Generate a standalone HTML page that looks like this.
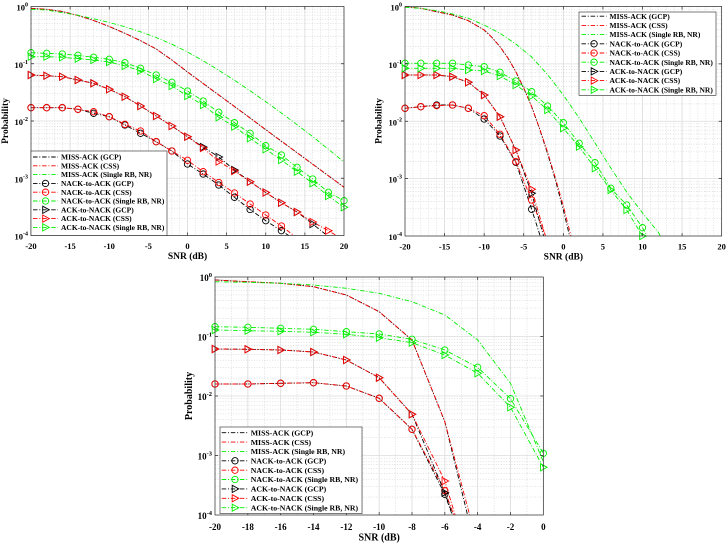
<!DOCTYPE html>
<html><head><meta charset="utf-8">
<style>
html,body{margin:0;padding:0;background:#fff;width:728px;height:544px;overflow:hidden;}
svg{display:block;}
text{font-family:"Liberation Serif","Times New Roman",serif;font-weight:bold;fill:#000;}
.gM{stroke:#dcdcdc;stroke-width:0.8;fill:none;}
.gm{stroke:#cfcfcf;stroke-width:0.6;stroke-dasharray:1 1.6;fill:none;}
.ax{stroke:#262626;stroke-width:0.7;fill:none;}
.l{fill:none;stroke-width:0.9;stroke-dasharray:4.5 1.8 1 1.8;}
.k{stroke:#000;}
.r{stroke:#ff0000;}
.g{stroke:#00ee00;}
.ro{stroke-dashoffset:0.8;}
.mk{fill:none;stroke-width:0.9;}
.tk{font-size:8.5px;}
.tkc{font-size:9px;}
.lab{font-size:9.5px;}
.labc{font-size:10px;}
.lg{font-size:7.5px;}
.lgc{font-size:7.8px;}
</style></head>
<body>
<svg width="728" height="544" viewBox="0 0 728 544" xmlns="http://www.w3.org/2000/svg">
<defs>
<clipPath id="cA"><rect x="31" y="6.5" width="313" height="229"/></clipPath>
<clipPath id="cB"><rect x="405" y="6.5" width="316.67" height="229.5"/></clipPath>
<clipPath id="cC"><rect x="215" y="277" width="328.33" height="238"/></clipPath>
<circle id="o" r="3.2"/>
<path id="t" d="M-2.8,-3.6L3.8,0L-2.8,3.6Z"/>
<path id="mA" d="M31,-17.234H344M31,-27.315H344M31,-34.468H344M31,-40.016H344M31,-44.549H344M31,-48.382H344M31,-51.702H344M31,-54.63H344"/>
<path id="mB" d="M405,-17.272H721.67M405,-27.375H721.67M405,-34.543H721.67M405,-40.103H721.67M405,-44.646H721.67M405,-48.487H721.67M405,-51.815H721.67M405,-54.75H721.67"/>
<path id="mC" d="M215,-17.911H543.33M215,-28.389H543.33M215,-35.823H543.33M215,-41.589H543.33M215,-46.3H543.33M215,-50.283H543.33M215,-53.734H543.33M215,-56.777H543.33"/>
</defs>
<rect x="0" y="0" width="728" height="544" fill="#fff"/>

<!-- ================= PLOT A ================= -->
<g class="gm">
<path d="M38.825,6.5v229m7.825,-229v229m7.825,-229v229m7.825,-229v229m7.825,-229v229m7.825,-229v229m7.825,-229v229m7.825,-229v229m7.825,-229v229m7.825,-229v229m7.825,-229v229m7.825,-229v229m7.825,-229v229m7.825,-229v229m7.825,-229v229m7.825,-229v229m7.825,-229v229m7.825,-229v229m7.825,-229v229m7.825,-229v229m7.825,-229v229m7.825,-229v229m7.825,-229v229m7.825,-229v229m7.825,-229v229m7.825,-229v229m7.825,-229v229m7.825,-229v229m7.825,-229v229m7.825,-229v229m7.825,-229v229m7.825,-229v229m7.825,-229v229m7.825,-229v229m7.825,-229v229m7.825,-229v229m7.825,-229v229m7.825,-229v229m7.825,-229v229"/>
<use href="#mA" y="63.75"/><use href="#mA" y="121"/><use href="#mA" y="178.25"/><use href="#mA" y="235.5"/>
</g>
<path class="gM" d="M70.13,6.5v229M109.25,6.5v229M148.38,6.5v229M187.5,6.5v229M226.63,6.5v229M265.75,6.5v229M304.88,6.5v229M31,63.75H344M31,121H344M31,178.25H344"/>

<g clip-path="url(#cA)">
<polyline class="l k" points="31,8.3 46.65,9.3 62.3,11.5 77.95,15.5 93.6,20.5 109.25,26.5 124.9,33.3 140.55,40.7 156.2,49 171.85,60 187.5,72 203.15,83.5 218.8,95 234.45,106.5 250.1,118 265.75,129.7 281.4,141.2 297.05,152.7 312.7,164.2 328.35,175.7 344,187.2"/>
<polyline class="l r ro" points="31,8.3 46.65,9.3 62.3,11.5 77.95,15.5 93.6,20.5 109.25,26.5 124.9,33.3 140.55,40.7 156.2,49 171.85,60 187.5,72 203.15,83.5 218.8,95 234.45,106.5 250.1,118 265.75,129.7 281.4,141.2 297.05,152.7 312.7,164.2 328.35,175.7 344,187.2"/>
<polyline class="l g" points="31,9.3 46.65,10 62.3,12.7 77.95,15.2 93.6,18.7 109.25,22.5 124.9,26.8 140.55,31.8 156.2,37.5 171.85,44.2 187.5,52 203.15,60.8 218.8,70.3 234.45,80.3 250.1,90.8 265.75,101.7 281.4,113 297.05,124.7 312.7,136.6 328.35,149.2 344,162"/>
<polyline class="l k" points="31,107.7 46.65,107.7 62.3,107.7 77.95,109.3 93.6,113.3 109.25,116.7 124.9,125 140.55,133.3 156.2,141.7 171.85,151 187.5,164 203.15,174 218.8,185 234.45,197.3 250.1,209.5 265.75,220.7 281.4,230.7 297.05,241"/>
<polyline class="l r ro" points="31,107.7 46.65,107.7 62.3,107.7 77.95,109.3 93.6,111.7 109.25,116.7 124.9,124.3 140.55,131 156.2,141.7 171.85,151 187.5,160.3 203.15,171.7 218.8,182.5 234.45,193 250.1,204 265.75,215 281.4,226 297.05,238"/>
<polyline class="l g" points="31,52.7 46.65,53.3 62.3,54 77.95,55.3 93.6,57.3 109.25,59.3 124.9,62.7 140.55,68.3 156.2,75 171.85,82.3 187.5,91 203.15,101 218.8,112.3 234.45,122.7 250.1,133.3 265.75,145.7 281.4,155 297.05,167.3 312.7,179 328.35,192.3 344,200.7"/>
<polyline class="l k" points="31,75 46.65,75.7 62.3,76.7 77.95,80 93.6,83.3 109.25,89.3 124.9,96.7 140.55,106 156.2,116 171.85,126 187.5,136.7 203.15,147 218.8,157 234.45,170 250.1,181.7 265.75,192.5 281.4,202.7 297.05,212 312.7,224 328.35,236.5"/>
<polyline class="l r ro" points="31,75 46.65,75.7 62.3,76.7 77.95,80 93.6,83.3 109.25,89.3 124.9,96.7 140.55,106 156.2,116 171.85,126 187.5,136.7 203.15,148 218.8,161.5 234.45,171 250.1,181.7 265.75,192.5 281.4,202.7 297.05,212 312.7,222 328.35,230.7 344,240"/>
<polyline class="l g" points="31,56.7 46.65,56.7 62.3,57.3 77.95,58.7 93.6,60 109.25,62 124.9,66 140.55,70.7 156.2,79 171.85,86 187.5,96 203.15,105 218.8,117.3 234.45,126.7 250.1,138.3 265.75,149.3 281.4,160 297.05,171.7 312.7,183.3 328.35,196 344,207.3"/>
</g>
<!-- A markers -->
<g class="mk k">
<use href="#o" x="31" y="107.7"/><use href="#o" x="46.65" y="107.7"/><use href="#o" x="62.3" y="107.7"/><use href="#o" x="77.95" y="109.3"/><use href="#o" x="93.6" y="113.3"/><use href="#o" x="109.25" y="116.7"/><use href="#o" x="124.9" y="125"/><use href="#o" x="140.55" y="133.3"/><use href="#o" x="156.2" y="141.7"/><use href="#o" x="171.85" y="151"/><use href="#o" x="187.5" y="164"/><use href="#o" x="203.15" y="174"/><use href="#o" x="218.8" y="185"/><use href="#o" x="234.45" y="197.3"/><use href="#o" x="250.1" y="209.5"/><use href="#o" x="265.75" y="220.7"/><use href="#o" x="281.4" y="230.7"/>
</g>
<g class="mk r">
<use href="#o" x="31" y="107.7"/><use href="#o" x="46.65" y="107.7"/><use href="#o" x="62.3" y="107.7"/><use href="#o" x="77.95" y="109.3"/><use href="#o" x="93.6" y="111.7"/><use href="#o" x="109.25" y="116.7"/><use href="#o" x="124.9" y="124.3"/><use href="#o" x="140.55" y="131"/><use href="#o" x="156.2" y="141.7"/><use href="#o" x="171.85" y="151"/><use href="#o" x="187.5" y="160.3"/><use href="#o" x="203.15" y="171.7"/><use href="#o" x="218.8" y="182.5"/><use href="#o" x="234.45" y="193"/><use href="#o" x="250.1" y="204"/><use href="#o" x="265.75" y="215"/><use href="#o" x="281.4" y="226"/>
</g>
<g class="mk g">
<use href="#o" x="31" y="52.7"/><use href="#o" x="46.65" y="53.3"/><use href="#o" x="62.3" y="54"/><use href="#o" x="77.95" y="55.3"/><use href="#o" x="93.6" y="57.3"/><use href="#o" x="109.25" y="59.3"/><use href="#o" x="124.9" y="62.7"/><use href="#o" x="140.55" y="68.3"/><use href="#o" x="156.2" y="75"/><use href="#o" x="171.85" y="82.3"/><use href="#o" x="187.5" y="91"/><use href="#o" x="203.15" y="101"/><use href="#o" x="218.8" y="112.3"/><use href="#o" x="234.45" y="122.7"/><use href="#o" x="250.1" y="133.3"/><use href="#o" x="265.75" y="145.7"/><use href="#o" x="281.4" y="155"/><use href="#o" x="297.05" y="167.3"/><use href="#o" x="312.7" y="179"/><use href="#o" x="328.35" y="192.3"/><use href="#o" x="344" y="200.7"/>
</g>
<g class="mk k">
<use href="#t" x="31" y="75"/><use href="#t" x="46.65" y="75.7"/><use href="#t" x="62.3" y="76.7"/><use href="#t" x="77.95" y="80"/><use href="#t" x="93.6" y="83.3"/><use href="#t" x="109.25" y="89.3"/><use href="#t" x="124.9" y="96.7"/><use href="#t" x="140.55" y="106"/><use href="#t" x="156.2" y="116"/><use href="#t" x="171.85" y="126"/><use href="#t" x="187.5" y="136.7"/><use href="#t" x="203.15" y="147"/><use href="#t" x="218.8" y="157"/><use href="#t" x="234.45" y="170"/><use href="#t" x="250.1" y="181.7"/><use href="#t" x="265.75" y="192.5"/><use href="#t" x="281.4" y="202.7"/><use href="#t" x="297.05" y="212"/><use href="#t" x="312.7" y="224"/>
</g>
<g class="mk r">
<use href="#t" x="31" y="75"/><use href="#t" x="46.65" y="75.7"/><use href="#t" x="62.3" y="76.7"/><use href="#t" x="77.95" y="80"/><use href="#t" x="93.6" y="83.3"/><use href="#t" x="109.25" y="89.3"/><use href="#t" x="124.9" y="96.7"/><use href="#t" x="140.55" y="106"/><use href="#t" x="156.2" y="116"/><use href="#t" x="171.85" y="126"/><use href="#t" x="187.5" y="136.7"/><use href="#t" x="203.15" y="148"/><use href="#t" x="218.8" y="161.5"/><use href="#t" x="234.45" y="171"/><use href="#t" x="250.1" y="181.7"/><use href="#t" x="265.75" y="192.5"/><use href="#t" x="281.4" y="202.7"/><use href="#t" x="297.05" y="212"/><use href="#t" x="312.7" y="222"/><use href="#t" x="328.35" y="230.7"/>
</g>
<g class="mk g">
<use href="#t" x="31" y="56.7"/><use href="#t" x="46.65" y="56.7"/><use href="#t" x="62.3" y="57.3"/><use href="#t" x="77.95" y="58.7"/><use href="#t" x="93.6" y="60"/><use href="#t" x="109.25" y="62"/><use href="#t" x="124.9" y="66"/><use href="#t" x="140.55" y="70.7"/><use href="#t" x="156.2" y="79"/><use href="#t" x="171.85" y="86"/><use href="#t" x="187.5" y="96"/><use href="#t" x="203.15" y="105"/><use href="#t" x="218.8" y="117.3"/><use href="#t" x="234.45" y="126.7"/><use href="#t" x="250.1" y="138.3"/><use href="#t" x="265.75" y="149.3"/><use href="#t" x="281.4" y="160"/><use href="#t" x="297.05" y="171.7"/><use href="#t" x="312.7" y="183.3"/><use href="#t" x="328.35" y="196"/><use href="#t" x="344" y="207.3"/>
</g>
<rect class="ax" x="31" y="6.5" width="313" height="229"/>
<path class="ax" d="M70.13,235.5v-3M109.25,235.5v-3M148.38,235.5v-3M187.5,235.5v-3M226.63,235.5v-3M265.75,235.5v-3M304.88,235.5v-3M70.13,6.5v3M109.25,6.5v3M148.38,6.5v3M187.5,6.5v3M226.63,6.5v3M265.75,6.5v3M304.88,6.5v3M31,63.75h3M31,121h3M31,178.25h3M344,63.75h-3M344,121h-3M344,178.25h-3"/>
<g class="tk" text-anchor="middle">
<text x="31" y="249">-20</text><text x="70.13" y="249">-15</text><text x="109.25" y="249">-10</text><text x="148.38" y="249">-5</text><text x="187.5" y="249">0</text><text x="226.63" y="249">5</text><text x="265.75" y="249">10</text><text x="304.88" y="249">15</text><text x="344" y="249">20</text>
</g>
<g class="tk" text-anchor="end">
<text x="28" y="10.5">10<tspan dy="-4" font-size="6">0</tspan></text>
<text x="28" y="67.75">10<tspan dy="-4" font-size="6">-1</tspan></text>
<text x="28" y="125">10<tspan dy="-4" font-size="6">-2</tspan></text>
<text x="28" y="182.25">10<tspan dy="-4" font-size="6">-3</tspan></text>
<text x="28" y="239.5">10<tspan dy="-4" font-size="6">-4</tspan></text>
</g>
<text class="lab" x="187.5" y="259" text-anchor="middle">SNR (dB)</text>
<text class="lab" transform="translate(8,121) rotate(-90)" text-anchor="middle">Probability</text>

<!-- Legend A -->
<rect x="31" y="151" width="136" height="84.5" fill="#fff" stroke="#262626" stroke-width="0.6"/>
<g>
<path class="l k" d="M33,157H58"/><path class="l r" d="M33,165.8H58"/><path class="l g" d="M33,174.6H58"/>
<path class="l k" d="M33,183.4H58"/><path class="l r" d="M33,192.2H58"/><path class="l g" d="M33,201H58"/>
<path class="l k" d="M33,209.8H58"/><path class="l r" d="M33,218.6H58"/><path class="l g" d="M33,227.4H58"/>
<use class="mk k" href="#o" x="45.5" y="183.4"/><use class="mk r" href="#o" x="45.5" y="192.2"/><use class="mk g" href="#o" x="45.5" y="201"/>
<use class="mk k" href="#t" x="45.5" y="209.8"/><use class="mk r" href="#t" x="45.5" y="218.6"/><use class="mk g" href="#t" x="45.5" y="227.4"/>
</g>
<g class="lg">
<text x="61" y="159.6">MISS-ACK (GCP)</text>
<text x="61" y="168.4">MISS-ACK (CSS)</text>
<text x="61" y="177.2">MISS-ACK (Single RB, NR)</text>
<text x="61" y="186">NACK-to-ACK (GCP)</text>
<text x="61" y="194.8">NACK-to-ACK (CSS)</text>
<text x="61" y="203.6">NACK-to-ACK (Single RB, NR)</text>
<text x="61" y="212.4">ACK-to-NACK (GCP)</text>
<text x="61" y="221.2">ACK-to-NACK (CSS)</text>
<text x="61" y="230">ACK-to-NACK (Single RB, NR)</text>
</g>

<!-- ================= PLOT B ================= -->
<g class="gm">
<path d="M412.917,6.5v229.5m7.9167,-229.5v229.5m7.9167,-229.5v229.5m7.9167,-229.5v229.5m7.9167,-229.5v229.5m7.9167,-229.5v229.5m7.9167,-229.5v229.5m7.9167,-229.5v229.5m7.9167,-229.5v229.5m7.9167,-229.5v229.5m7.9167,-229.5v229.5m7.9167,-229.5v229.5m7.9167,-229.5v229.5m7.9167,-229.5v229.5m7.9167,-229.5v229.5m7.9167,-229.5v229.5m7.9167,-229.5v229.5m7.9167,-229.5v229.5m7.9167,-229.5v229.5m7.9167,-229.5v229.5m7.9167,-229.5v229.5m7.9167,-229.5v229.5m7.9167,-229.5v229.5m7.9167,-229.5v229.5m7.9167,-229.5v229.5m7.9167,-229.5v229.5m7.9167,-229.5v229.5m7.9167,-229.5v229.5m7.9167,-229.5v229.5m7.9167,-229.5v229.5m7.9167,-229.5v229.5m7.9167,-229.5v229.5m7.9167,-229.5v229.5m7.9167,-229.5v229.5m7.9167,-229.5v229.5m7.9167,-229.5v229.5m7.9167,-229.5v229.5m7.9167,-229.5v229.5m7.9167,-229.5v229.5"/>
<use href="#mB" y="63.875"/><use href="#mB" y="121.25"/><use href="#mB" y="178.625"/><use href="#mB" y="236"/>
</g>
<path class="gM" d="M444.58,6.5v229.5M484.17,6.5v229.5M523.75,6.5v229.5M563.33,6.5v229.5M602.92,6.5v229.5M642.5,6.5v229.5M682.08,6.5v229.5M405,63.875H721.67M405,121.25H721.67M405,178.625H721.67"/>

<g clip-path="url(#cB)">
<polyline class="l k" points="405,6.7 420.83,8.3 436.67,11.7 452.5,15 468.33,20.7 484.17,30 492.08,37.5 500,46.7 507.92,58 515.83,71.7 523.75,88 531.67,106.7 539.58,129 547.5,153.3 555.42,180 563.33,210 571.25,243 579.17,279"/>
<polyline class="l r ro" points="405,6.7 420.83,8.3 436.67,11.7 452.5,15 468.33,20.7 484.17,30 492.08,37.5 500,46.7 507.92,58 515.83,71.7 523.75,88 531.67,106.7 539.58,128.5 547.5,152 555.42,178 563.33,206 571.25,237 579.17,270"/>
<polyline class="l g" points="405,7.3 420.83,8.3 436.67,10.7 452.5,14 468.33,18.3 484.17,25 500,33.3 515.83,44 531.67,57 547.5,74.5 563.33,95 579.17,118 595,143 610.83,168 626.67,192 642.5,213 658.33,232.3 674.17,260"/>
<polyline class="l k" points="405,108.3 420.83,106.7 436.67,105 452.5,105 468.33,108.3 484.17,119 500,136 515.83,162.3 531.67,209.3 547.5,259"/>
<polyline class="l r ro" points="405,108.3 420.83,106.7 436.67,105.7 452.5,105 468.33,108.3 484.17,115.7 500,134.3 515.83,161.7 531.67,200 547.5,241"/>
<polyline class="l g" points="405,63.3 420.83,63.3 436.67,63.3 452.5,63.3 468.33,65 484.17,66.7 500,72.3 515.83,81 531.67,91.7 547.5,106 563.33,122.7 579.17,143.3 595,162.7 610.83,188.3 626.67,205 642.5,227.7 658.33,256"/>
<polyline class="l k" points="405,75 420.83,75 436.67,75 452.5,76.7 468.33,82.3 484.17,95 500,116.7 515.83,150 531.67,193.3 547.5,250"/>
<polyline class="l r ro" points="405,75 420.83,75 436.67,75 452.5,76.7 468.33,82.3 484.17,95 500,116.7 515.83,150 531.67,189.3 547.5,243"/>
<polyline class="l g" points="405,68.3 420.83,68.3 436.67,68.3 452.5,68.3 468.33,70 484.17,71 500,76 515.83,85 531.67,96 547.5,110 563.33,128.3 579.17,146.7 595,168.3 610.83,190 626.67,210 642.5,236 658.33,262"/>
</g>
<g class="mk k">
<use href="#o" x="405" y="108.3"/><use href="#o" x="420.83" y="106.7"/><use href="#o" x="436.67" y="105"/><use href="#o" x="452.5" y="105"/><use href="#o" x="468.33" y="108.3"/><use href="#o" x="484.17" y="119"/><use href="#o" x="500" y="136"/><use href="#o" x="515.83" y="162.3"/><use href="#o" x="531.67" y="209.3"/>
</g>
<g class="mk r">
<use href="#o" x="405" y="108.3"/><use href="#o" x="420.83" y="106.7"/><use href="#o" x="436.67" y="105.7"/><use href="#o" x="452.5" y="105"/><use href="#o" x="468.33" y="108.3"/><use href="#o" x="484.17" y="115.7"/><use href="#o" x="500" y="134.3"/><use href="#o" x="515.83" y="161.7"/><use href="#o" x="531.67" y="200"/>
</g>
<g class="mk g">
<use href="#o" x="405" y="63.3"/><use href="#o" x="420.83" y="63.3"/><use href="#o" x="436.67" y="63.3"/><use href="#o" x="452.5" y="63.3"/><use href="#o" x="468.33" y="65"/><use href="#o" x="484.17" y="66.7"/><use href="#o" x="500" y="72.3"/><use href="#o" x="515.83" y="81"/><use href="#o" x="531.67" y="91.7"/><use href="#o" x="547.5" y="106"/><use href="#o" x="563.33" y="122.7"/><use href="#o" x="579.17" y="143.3"/><use href="#o" x="595" y="162.7"/><use href="#o" x="610.83" y="188.3"/><use href="#o" x="626.67" y="205"/><use href="#o" x="642.5" y="227.7"/>
</g>
<g class="mk k">
<use href="#t" x="405" y="75"/><use href="#t" x="420.83" y="75"/><use href="#t" x="436.67" y="75"/><use href="#t" x="452.5" y="76.7"/><use href="#t" x="468.33" y="82.3"/><use href="#t" x="484.17" y="95"/><use href="#t" x="500" y="116.7"/><use href="#t" x="515.83" y="150"/><use href="#t" x="531.67" y="193.3"/>
</g>
<g class="mk r">
<use href="#t" x="405" y="75"/><use href="#t" x="420.83" y="75"/><use href="#t" x="436.67" y="75"/><use href="#t" x="452.5" y="76.7"/><use href="#t" x="468.33" y="82.3"/><use href="#t" x="484.17" y="95"/><use href="#t" x="500" y="116.7"/><use href="#t" x="515.83" y="150"/><use href="#t" x="531.67" y="189.3"/>
</g>
<g class="mk g">
<use href="#t" x="405" y="68.3"/><use href="#t" x="420.83" y="68.3"/><use href="#t" x="436.67" y="68.3"/><use href="#t" x="452.5" y="68.3"/><use href="#t" x="468.33" y="70"/><use href="#t" x="484.17" y="71"/><use href="#t" x="500" y="76"/><use href="#t" x="515.83" y="85"/><use href="#t" x="531.67" y="96"/><use href="#t" x="547.5" y="110"/><use href="#t" x="563.33" y="128.3"/><use href="#t" x="579.17" y="146.7"/><use href="#t" x="595" y="168.3"/><use href="#t" x="610.83" y="190"/><use href="#t" x="626.67" y="210"/><use href="#t" x="642.5" y="236"/>
</g>
<rect class="ax" x="405" y="6.5" width="316.67" height="229.5"/>
<path class="ax" d="M444.58,236v-3M484.17,236v-3M523.75,236v-3M563.33,236v-3M602.92,236v-3M642.5,236v-3M682.08,236v-3M444.58,6.5v3M484.17,6.5v3M523.75,6.5v3M563.33,6.5v3M602.92,6.5v3M642.5,6.5v3M682.08,6.5v3M405,63.875h3M405,121.25h3M405,178.625h3M721.67,63.875h-3M721.67,121.25h-3M721.67,178.625h-3"/>
<g class="tk" text-anchor="middle">
<text x="405" y="249.5">-20</text><text x="444.58" y="249.5">-15</text><text x="484.17" y="249.5">-10</text><text x="523.75" y="249.5">-5</text><text x="563.33" y="249.5">0</text><text x="602.92" y="249.5">5</text><text x="642.5" y="249.5">10</text><text x="682.08" y="249.5">15</text><text x="721.67" y="249.5">20</text>
</g>
<g class="tk" text-anchor="end">
<text x="402" y="10.5">10<tspan dy="-4" font-size="6">0</tspan></text>
<text x="402" y="67.9">10<tspan dy="-4" font-size="6">-1</tspan></text>
<text x="402" y="125.25">10<tspan dy="-4" font-size="6">-2</tspan></text>
<text x="402" y="182.6">10<tspan dy="-4" font-size="6">-3</tspan></text>
<text x="402" y="240">10<tspan dy="-4" font-size="6">-4</tspan></text>
</g>
<text class="lab" x="563.33" y="259.5" text-anchor="middle">SNR (dB)</text>
<text class="lab" transform="translate(381.5,121) rotate(-90)" text-anchor="middle">Probability</text>

<!-- Legend B -->
<rect x="579" y="12" width="137" height="83.3" fill="#fff" stroke="#262626" stroke-width="0.6"/>
<g>
<path class="l k" d="M581.5,16.2H606.5"/><path class="l r" d="M581.5,25.4H606.5"/><path class="l g" d="M581.5,34.6H606.5"/>
<path class="l k" d="M581.5,43.8H606.5"/><path class="l r" d="M581.5,53H606.5"/><path class="l g" d="M581.5,62.2H606.5"/>
<path class="l k" d="M581.5,71.4H606.5"/><path class="l r" d="M581.5,80.6H606.5"/><path class="l g" d="M581.5,89.8H606.5"/>
<use class="mk k" href="#o" x="594" y="43.8"/><use class="mk r" href="#o" x="594" y="53"/><use class="mk g" href="#o" x="594" y="62.2"/>
<use class="mk k" href="#t" x="594" y="71.4"/><use class="mk r" href="#t" x="594" y="80.6"/><use class="mk g" href="#t" x="594" y="89.8"/>
</g>
<g class="lg">
<text x="609.5" y="18.8">MISS-ACK (GCP)</text>
<text x="609.5" y="28">MISS-ACK (CSS)</text>
<text x="609.5" y="37.2">MISS-ACK (Single RB, NR)</text>
<text x="609.5" y="46.4">NACK-to-ACK (GCP)</text>
<text x="609.5" y="55.6">NACK-to-ACK (CSS)</text>
<text x="609.5" y="64.8">NACK-to-ACK (Single RB, NR)</text>
<text x="609.5" y="74">ACK-to-NACK (GCP)</text>
<text x="609.5" y="83.2">ACK-to-NACK (CSS)</text>
<text x="609.5" y="92.4">ACK-to-NACK (Single RB, NR)</text>
</g>

<!-- ================= PLOT C ================= -->
<g class="gm">
<path d="M231.417,277v238m16.417,-238v238m16.417,-238v238m16.417,-238v238m16.417,-238v238m16.417,-238v238m16.417,-238v238m16.417,-238v238m16.417,-238v238m16.417,-238v238m16.417,-238v238m16.417,-238v238m16.417,-238v238m16.417,-238v238m16.417,-238v238m16.417,-238v238m16.417,-238v238m16.417,-238v238m16.417,-238v238"/>
<use href="#mC" y="336.5"/><use href="#mC" y="396"/><use href="#mC" y="455.5"/><use href="#mC" y="515"/>
</g>
<path class="gM" d="M247.83,277v238M280.67,277v238M313.5,277v238M346.33,277v238M379.17,277v238M412,277v238M444.83,277v238M477.67,277v238M510.5,277v238M215,336.5H543.33M215,396H543.33M215,455.5H543.33"/>

<g clip-path="url(#cC)">
<polyline class="l k" points="215,280 247.83,281.7 280.67,283.3 313.5,286.7 346.33,295 379.17,311.7 412,340 444.83,421.7 467.53,515"/>
<polyline class="l r ro" points="215,280 247.83,281.7 280.67,283.3 313.5,286.7 346.33,295 379.17,311.7 412,340 444.83,421.7 469.68,515"/>
<polyline class="l g" points="215,281.7 247.83,282.3 280.67,283.3 313.5,285 346.33,288.3 379.17,293.3 412,301.7 444.83,315 477.67,340 510.5,383.3 543.33,461.7"/>
<polyline class="l k" points="215,384 247.83,384 280.67,383.3 313.5,382.7 346.33,386 379.17,398.3 412,429.3 444.83,494.3 452.24,515"/>
<polyline class="l r ro" points="215,384 247.83,384 280.67,383.3 313.5,382.7 346.33,386 379.17,398.3 412,429.3 444.83,490.7 453.77,515"/>
<polyline class="l g" points="215,326.7 247.83,327.3 280.67,328.3 313.5,329.3 346.33,331.7 379.17,334 412,339.3 444.83,350 477.67,367.3 510.5,398.7 543.33,453.3"/>
<polyline class="l k" points="215,349 247.83,349.3 280.67,350 313.5,352 346.33,360 379.17,377.7 412,414.3 444.83,492.7 452.68,515"/>
<polyline class="l r ro" points="215,349 247.83,349.3 280.67,350 313.5,352 346.33,360 379.17,377.7 412,414.3 444.83,481 455.07,515"/>
<polyline class="l g" points="215,330 247.83,330.7 280.67,331.3 313.5,332.3 346.33,334.3 379.17,337.7 412,342.7 444.83,355 477.67,373.3 510.5,407.3 543.33,467.3"/>
</g>
<g class="mk k">
<use href="#o" x="215" y="384"/><use href="#o" x="247.83" y="384"/><use href="#o" x="280.67" y="383.3"/><use href="#o" x="313.5" y="382.7"/><use href="#o" x="346.33" y="386"/><use href="#o" x="379.17" y="398.3"/><use href="#o" x="412" y="429.3"/><use href="#o" x="444.83" y="494.3"/>
</g>
<g class="mk r">
<use href="#o" x="215" y="384"/><use href="#o" x="247.83" y="384"/><use href="#o" x="280.67" y="383.3"/><use href="#o" x="313.5" y="382.7"/><use href="#o" x="346.33" y="386"/><use href="#o" x="379.17" y="398.3"/><use href="#o" x="412" y="429.3"/><use href="#o" x="444.83" y="490.7"/>
</g>
<g class="mk g">
<use href="#o" x="215" y="326.7"/><use href="#o" x="247.83" y="327.3"/><use href="#o" x="280.67" y="328.3"/><use href="#o" x="313.5" y="329.3"/><use href="#o" x="346.33" y="331.7"/><use href="#o" x="379.17" y="334"/><use href="#o" x="412" y="339.3"/><use href="#o" x="444.83" y="350"/><use href="#o" x="477.67" y="367.3"/><use href="#o" x="510.5" y="398.7"/><use href="#o" x="543.33" y="453.3"/>
</g>
<g class="mk k">
<use href="#t" x="215" y="349"/><use href="#t" x="247.83" y="349.3"/><use href="#t" x="280.67" y="350"/><use href="#t" x="313.5" y="352"/><use href="#t" x="346.33" y="360"/><use href="#t" x="379.17" y="377.7"/><use href="#t" x="412" y="414.3"/><use href="#t" x="444.83" y="492.7"/>
</g>
<g class="mk r">
<use href="#t" x="215" y="349"/><use href="#t" x="247.83" y="349.3"/><use href="#t" x="280.67" y="350"/><use href="#t" x="313.5" y="352"/><use href="#t" x="346.33" y="360"/><use href="#t" x="379.17" y="377.7"/><use href="#t" x="412" y="414.3"/><use href="#t" x="444.83" y="481"/>
</g>
<g class="mk g">
<use href="#t" x="215" y="330"/><use href="#t" x="247.83" y="330.7"/><use href="#t" x="280.67" y="331.3"/><use href="#t" x="313.5" y="332.3"/><use href="#t" x="346.33" y="334.3"/><use href="#t" x="379.17" y="337.7"/><use href="#t" x="412" y="342.7"/><use href="#t" x="444.83" y="355"/><use href="#t" x="477.67" y="373.3"/><use href="#t" x="510.5" y="407.3"/><use href="#t" x="543.33" y="467.3"/>
</g>
<rect class="ax" x="215" y="277" width="328.33" height="238"/>
<path class="ax" d="M247.83,515v-3M280.67,515v-3M313.5,515v-3M346.33,515v-3M379.17,515v-3M412,515v-3M444.83,515v-3M477.67,515v-3M510.5,515v-3M247.83,277v3M280.67,277v3M313.5,277v3M346.33,277v3M379.17,277v3M412,277v3M444.83,277v3M477.67,277v3M510.5,277v3M215,336.5h3M215,396h3M215,455.5h3M543.33,336.5h-3M543.33,396h-3M543.33,455.5h-3"/>
<g class="tkc" text-anchor="middle">
<text x="215" y="530">-20</text><text x="247.83" y="530">-18</text><text x="280.67" y="530">-16</text><text x="313.5" y="530">-14</text><text x="346.33" y="530">-12</text><text x="379.17" y="530">-10</text><text x="412" y="530">-8</text><text x="444.83" y="530">-6</text><text x="477.67" y="530">-4</text><text x="510.5" y="530">-2</text><text x="543.33" y="530">0</text>
</g>
<g class="tkc" text-anchor="end">
<text x="212" y="281">10<tspan dy="-4" font-size="6.5">0</tspan></text>
<text x="212" y="340.5">10<tspan dy="-4" font-size="6.5">-1</tspan></text>
<text x="212" y="400">10<tspan dy="-4" font-size="6.5">-2</tspan></text>
<text x="212" y="459.5">10<tspan dy="-4" font-size="6.5">-3</tspan></text>
<text x="212" y="519">10<tspan dy="-4" font-size="6.5">-4</tspan></text>
</g>
<text class="labc" x="379.17" y="540.3" text-anchor="middle">SNR (dB)</text>
<text class="labc" transform="translate(192,396) rotate(-90)" text-anchor="middle">Probability</text>

<!-- Legend C -->
<rect x="220" y="427" width="142" height="86.5" fill="#fff" stroke="#262626" stroke-width="0.6"/>
<g>
<path class="l k" d="M221.7,432.7H248.3"/><path class="l r" d="M221.7,442.1H248.3"/><path class="l g" d="M221.7,451.4H248.3"/>
<path class="l k" d="M221.7,460.8H248.3"/><path class="l r" d="M221.7,470.2H248.3"/><path class="l g" d="M221.7,479.5H248.3"/>
<path class="l k" d="M221.7,488.9H248.3"/><path class="l r" d="M221.7,498.3H248.3"/><path class="l g" d="M221.7,507.7H248.3"/>
<use class="mk k" href="#o" x="235" y="460.8"/><use class="mk r" href="#o" x="235" y="470.2"/><use class="mk g" href="#o" x="235" y="479.5"/>
<use class="mk k" href="#t" x="235" y="488.9"/><use class="mk r" href="#t" x="235" y="498.3"/><use class="mk g" href="#t" x="235" y="507.7"/>
</g>
<g class="lgc">
<text x="250.7" y="435.4">MISS-ACK (GCP)</text>
<text x="250.7" y="444.8">MISS-ACK (CSS)</text>
<text x="250.7" y="454.1">MISS-ACK (Single RB, NR)</text>
<text x="250.7" y="463.5">NACK-to-ACK (GCP)</text>
<text x="250.7" y="472.9">NACK-to-ACK (CSS)</text>
<text x="250.7" y="482.2">NACK-to-ACK (Single RB, NR)</text>
<text x="250.7" y="491.6">ACK-to-NACK (GCP)</text>
<text x="250.7" y="501">ACK-to-NACK (CSS)</text>
<text x="250.7" y="510.4">ACK-to-NACK (Single RB, NR)</text>
</g>
</svg>
</body></html>
